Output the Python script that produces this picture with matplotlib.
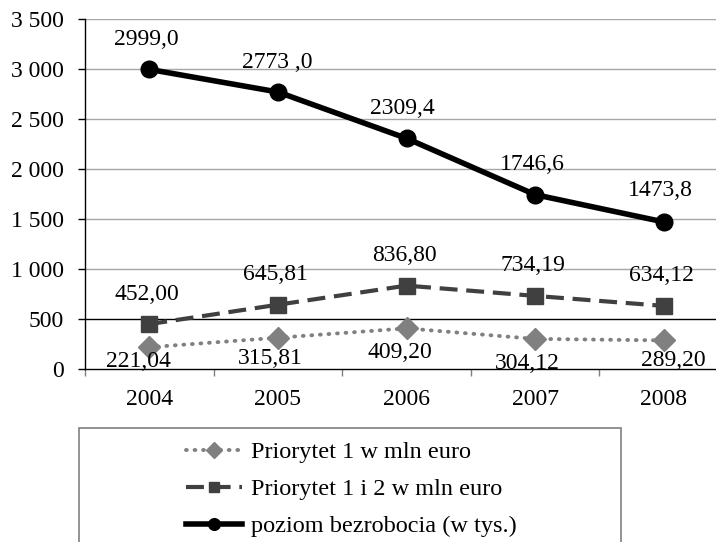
import matplotlib
matplotlib.use("Agg")
import matplotlib.pyplot as plt
from matplotlib.patches import Rectangle
from matplotlib.ticker import FixedLocator

plt.rcParams['font.family'] = ['Liberation Serif', 'DejaVu Serif']

years = ["2004", "2005", "2006", "2007", "2008"]
priorytet1 = [221.04, 315.81, 409.20, 304.12, 289.20]
priorytet12 = [452.00, 645.81, 836.80, 734.19, 634.12]
bezrobocie = [2999.0, 2773.0, 2309.4, 1746.6, 1473.8]
labels_p1 = ["221,04", "315,81", "409,20", "304,12", "289,20"]
labels_p12 = ["452,00", "645,81", "836,80", "734,19", "634,12"]
labels_bez = ["2999,0", "2773 ,0", "2309,4", "1746,6", "1473,8"]
yticks = [0, 500, 1000, 1500, 2000, 2500, 3000, 3500]
ytick_labels = ["0", "500", "1 000", "1 500", "2 000", "2 500", "3 000", "3 500"]
legend_names = ["Priorytet 1 w mln euro", "Priorytet 1 i 2 w mln euro",
                "poziom bezrobocia (w tys.)"]

W, H = 716, 542
fig = plt.figure(figsize=(W / 100, H / 100), dpi=100)
ax = fig.add_axes([85 / W, 1 - 369.3 / H, (728 - 85) / W, 350 / H])

x = list(range(len(years)))
FS = 17
LFS = 17.5

ax.set_xlim(-0.5, len(years) - 0.5)
ax.set_ylim(0, 3500)

# grid
for v in yticks[1:]:
    col = 'black' if v == 500 else '#a6a6a6'
    ax.axhline(v, color=col, lw=1.0, zorder=1)

l1, = ax.plot(x, priorytet1, color='#808080', lw=2.8, linestyle=(0, (0.2, 2.0)),
              dash_capstyle='round', marker='D', markersize=11,
              markerfacecolor='#808080', markeredgecolor='#808080', zorder=3,
              label=legend_names[0])
l2, = ax.plot(x, priorytet12, color='#404040', lw=3.0, linestyle=(0, (4.3, 2.1)),
              marker='s', markersize=11, markerfacecolor='#404040',
              markeredgecolor='#404040', zorder=4, label=legend_names[1])
l3, = ax.plot(x, bezrobocie, color='black', lw=4.0, marker='o', markersize=12,
              markerfacecolor='black', zorder=5, label=legend_names[2])

# data labels (offsets in pixels)
off_bez = [(-3, 30), (-1, 29), (-4, 30), (-3, 30), (-3, 31)]
off_p12 = [(-2, 30), (-2, 30), (-2, 30), (-2, 30), (-2, 30)]
off_p1 = [(-11, -14), (-8, -21), (-7, -24), (-8, -25), (10, -20)]
for xi, v, t, o in zip(x, bezrobocie, labels_bez, off_bez):
    ax.annotate(t, (xi, v), xytext=o, textcoords='offset pixels', ha='center',
                va='center', fontsize=FS, zorder=6)
for xi, v, t, o in zip(x, priorytet12, labels_p12, off_p12):
    ax.annotate(t, (xi, v), xytext=o, textcoords='offset pixels', ha='center',
                va='center', fontsize=FS, zorder=6)
for xi, v, t, o in zip(x, priorytet1, labels_p1, off_p1):
    ax.annotate(t, (xi, v), xytext=o, textcoords='offset pixels', ha='center',
                va='center', fontsize=FS, zorder=6)

# axes styling
for s in ['top', 'right']:
    ax.spines[s].set_visible(False)
for s in ['left', 'bottom']:
    ax.spines[s].set_color('black')
    ax.spines[s].set_linewidth(1.0)
    ax.spines[s].set_zorder(7)

ax.set_yticks(yticks)
ax.set_yticklabels(ytick_labels, fontsize=FS)
ax.tick_params(axis='y', direction='out', length=5, width=1, pad=10, color='black')

ax.set_xticks(x)
ax.set_xticklabels(years, fontsize=FS)
ax.xaxis.set_minor_locator(FixedLocator([i + 0.5 for i in range(-1, len(years))]))
ax.tick_params(axis='x', which='major', length=0, pad=14)
ax.tick_params(axis='x', which='minor', direction='out', length=5, width=1, color='#808080')

# legend box
fig.patches.append(Rectangle((79 / W, -0.05), (621 - 79) / W, (1 - 428 / H) + 0.05,
                             transform=fig.transFigure, facecolor='white',
                             edgecolor='#808080', lw=1.2, zorder=0))
leg = fig.legend(handles=[l1, l2, l3], loc='upper left',
                 bbox_to_anchor=(186 / W, 1 - 441 / H), frameon=False,
                 fontsize=LFS, handlelength=2.3, handletextpad=0.38,
                 labelspacing=0.62, borderpad=0, borderaxespad=0, numpoints=1,
                 markerscale=0.7)

fig.savefig("out.png", dpi=100)
